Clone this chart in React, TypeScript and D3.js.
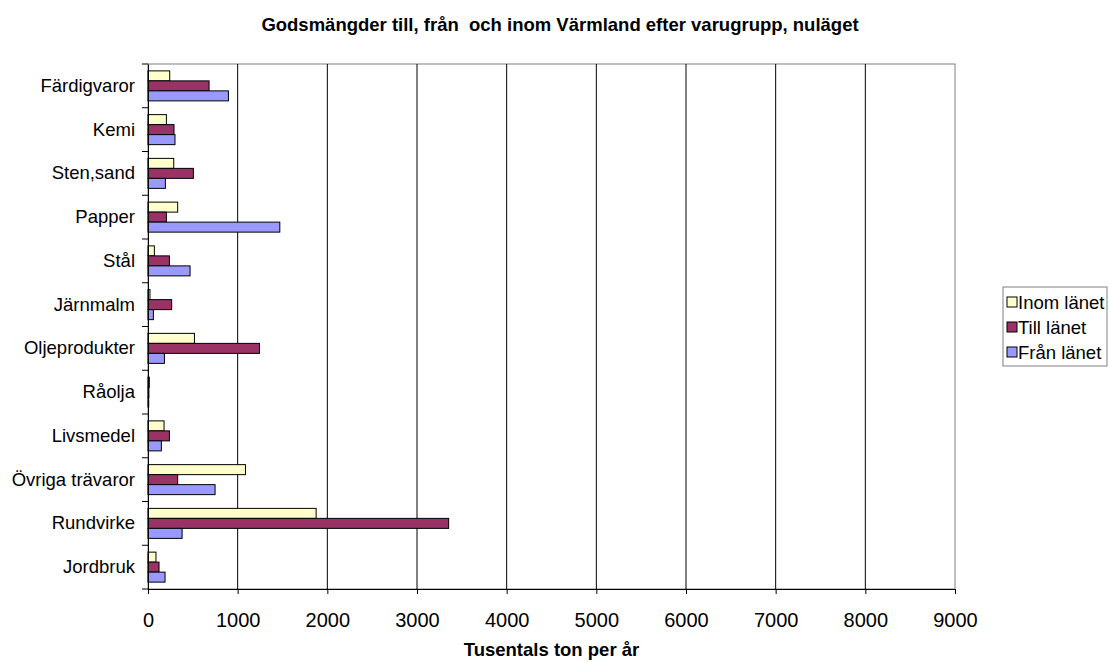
import React, { useEffect, useRef } from "react";
import * as d3 from "d3";

const categories = [
  "Färdigvaror",
  "Kemi",
  "Sten,sand",
  "Papper",
  "Stål",
  "Järnmalm",
  "Oljeprodukter",
  "Råolja",
  "Livsmedel",
  "Övriga trävaror",
  "Rundvirke",
  "Jordbruk",
];
const series = ["Inom länet", "Till länet", "Från länet"];
const inomLanet = [242, 205, 287, 331, 71, 22, 518, 15, 179, 1087, 1875, 89];
const tillLanet = [681, 290, 506, 205, 239, 264, 1243, 10, 239, 331, 3353, 123];
const franLanet = [897, 301, 194, 1470, 469, 60, 183, 8, 149, 748, 380, 190];
const xTicks = [0, 1000, 2000, 3000, 4000, 5000, 6000, 7000, 8000, 9000];
const colors = ["#FFFFCC", "#993366", "#9999FF"];

const App = () => {
  const ref = useRef<SVGSVGElement>(null);

  useEffect(() => {
    const svg = d3.select(ref.current);
    svg.selectAll("*").remove();
    const font = "Liberation Sans, Arial, sans-serif";

    const left = 148, right = 955, top = 64, bottom = 589;
    const x = d3.scaleLinear().domain([0, 9000]).range([left, right]);
    const y = d3.scaleBand().domain(categories).range([top, bottom]);
    const inner = d3.scaleBand().domain(series).range([0, 30]);
    const values = [inomLanet, tillLanet, franLanet];

    // frame + gridlines
    svg
      .append("rect")
      .attr("x", left)
      .attr("y", top)
      .attr("width", right - left)
      .attr("height", bottom - top)
      .attr("fill", "none")
      .attr("stroke", "#808080");
    svg
      .append("g")
      .selectAll("line")
      .data(xTicks.slice(1, -1))
      .enter()
      .append("line")
      .attr("x1", (d) => x(d))
      .attr("x2", (d) => x(d))
      .attr("y1", top)
      .attr("y2", bottom)
      .attr("stroke", "#000");

    // bars
    series.forEach((s, si) => {
      svg
        .append("g")
        .selectAll("rect")
        .data(values[si])
        .enter()
        .append("rect")
        .attr("x", x(0))
        .attr("y", (d, i) => y(categories[i])! + (y.bandwidth() - 30) / 2 + inner(s)!)
        .attr("width", (d) => x(d) - x(0))
        .attr("height", inner.bandwidth())
        .attr("fill", colors[si])
        .attr("stroke", "#000");
    });

    // x axis
    const xAxis = svg
      .append("g")
      .attr("transform", `translate(0, ${bottom})`)
      .call(d3.axisBottom(x).tickValues(xTicks).tickSize(5).tickPadding(19).tickFormat(d3.format("d")));
    xAxis.select(".domain").attr("stroke", "#000");
    xAxis.selectAll("line").attr("stroke", "#000");
    xAxis
      .selectAll("text")
      .attr("font-family", font)
      .attr("font-size", 20)
      .attr("fill", "#000");

    // y axis
    const yAxis = svg
      .append("g")
      .attr("transform", `translate(${left}, 0)`)
      .call(d3.axisLeft(y).tickSize(0).tickPadding(13));
    yAxis.select(".domain").attr("stroke", "#000");
    yAxis
      .selectAll("text")
      .attr("font-family", font)
      .attr("font-size", 18.5)
      .attr("fill", "#000");
    svg
      .append("g")
      .selectAll("line")
      .data(d3.range(categories.length + 1))
      .enter()
      .append("line")
      .attr("x1", left - 6)
      .attr("x2", left)
      .attr("y1", (d) => top + d * y.step())
      .attr("y2", (d) => top + d * y.step())
      .attr("stroke", "#000");

    // titles
    svg
      .append("text")
      .attr("x", 560)
      .attr("y", 31)
      .attr("text-anchor", "middle")
      .attr("font-family", font)
      .attr("font-weight", "bold")
      .attr("font-size", 18.5)
      .style("white-space", "pre")
      .text("Godsmängder till, från  och inom Värmland efter varugrupp, nuläget");
    svg
      .append("text")
      .attr("x", (left + right) / 2)
      .attr("y", 656)
      .attr("text-anchor", "middle")
      .attr("font-family", font)
      .attr("font-weight", "bold")
      .attr("font-size", 18.5)
      .text("Tusentals ton per år");

    // legend
    const lg = svg.append("g").attr("transform", "translate(1003, 287)");
    lg.append("rect")
      .attr("width", 104)
      .attr("height", 79)
      .attr("fill", "#fff")
      .attr("stroke", "#808080");
    series.forEach((s, i) => {
      lg.append("rect")
        .attr("x", 4)
        .attr("y", 10 + i * 25)
        .attr("width", 10)
        .attr("height", 10)
        .attr("fill", colors[i])
        .attr("stroke", "#000");
      lg.append("text")
        .attr("x", 15)
        .attr("y", 22 + i * 25)
        .attr("font-family", font)
        .attr("font-size", 18.5)
        .text(s);
    });
  }, []);

  return (
    <svg
      ref={ref}
      width={1109}
      height={662}
      style={{ position: "absolute", left: 0, top: 0, background: "#fff" }}
    ></svg>
  );
};

export default App;
